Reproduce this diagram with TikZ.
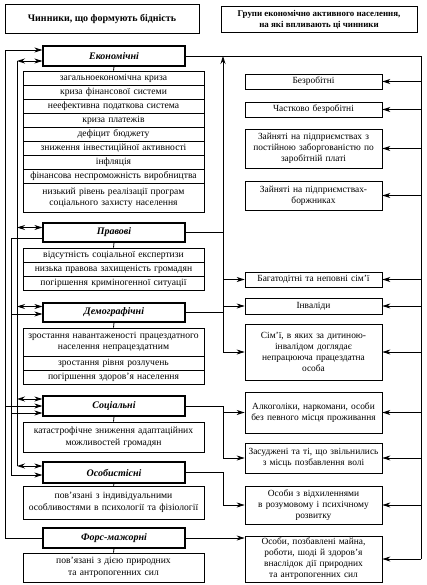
\documentclass[tikz,border=0pt]{standalone}
\usepackage{fontspec}
\setmainfont{Liberation Serif}
\usetikzlibrary{arrows.meta}
\begin{document}
\begin{tikzpicture}[x=1pt,y=-1pt,
  every node/.style={inner sep=0pt, align=center},
  hdr/.style={draw, line width=1.2pt, minimum width=142pt, minimum height=20pt, font=\fontsize{10}{11}\selectfont\bfseries\itshape},
  lst/.style={draw, line width=0.7pt, minimum width=181pt, text width=180pt, font=\fontsize{9.6}{11.5}\selectfont},
  rb/.style={draw, line width=0.7pt, minimum width=137pt, text width=136pt, font=\fontsize{9.4}{11}\selectfont},
  ttl/.style={draw, line width=1pt, font=\bfseries},
  con/.style={line width=0.8pt},
  arr/.style={con, -{Stealth[length=8pt,width=5pt]}},
  darr/.style={con, {Stealth[length=8pt,width=5pt]}-{Stealth[length=8pt,width=5pt]}},
]
\useasboundingbox (0,0) rectangle (426,585);

% titles
\node[ttl, minimum width=194pt, minimum height=29pt, font=\fontsize{10}{12}\selectfont\bfseries] (t1) at (102,19.5) {Чинники, що формують бідність};
\node[ttl, minimum width=196pt, minimum height=26pt, font=\fontsize{8.9}{10.8}\selectfont\bfseries] (t2) at (319,20) {Групи економічно активного населення,\\ на які впливають ці чинники};

% Економічні
\node[hdr] (h1) at (114,56) {Економічні};
\node[lst, minimum height=14pt] (e1) at (113.5,78) {загальноекономічна криза};
\node[lst, minimum height=14pt] (e2) at (113.5,92) {криза фінансової системи};
\node[lst, minimum height=14pt] (e3) at (113.5,106) {неефективна податкова система};
\node[lst, minimum height=14pt] (e4) at (113.5,120) {криза платежів};
\node[lst, minimum height=14pt] (e5) at (113.5,134) {дефіцит бюджету};
\node[lst, minimum height=14pt] (e6) at (113.5,148) {зниження інвестиційної активності};
\node[lst, minimum height=14pt] (e7) at (113.5,162) {інфляція};
\node[lst, minimum height=14pt] (e8) at (113.5,176) {фінансова неспроможність виробництва};
\node[lst, minimum height=29pt] (e9) at (113.5,197.5) {низький рівень реалізації програм\\ соціального захисту населення};

% Правові
\node[hdr, minimum height=19pt] (h2) at (114,232.5) {Правові};
\node[lst, minimum height=14pt] (p1) at (113.5,255) {відсутність соціальної експертизи};
\node[lst, minimum height=14pt] (p2) at (113.5,269) {низька правова захищеність громадян};
\node[lst, minimum height=14pt] (p3) at (113.5,283) {погіршення криміногенної ситуації};

% Демографічні
\node[hdr, minimum height=19pt] (h3) at (114,312.5) {Демографічні};
\node[lst, minimum height=28pt] (d1n) at (113.5,342) {зростання навантаженості працездатного\\ населення непрацездатним};
\node[lst, minimum height=14pt] (d2n) at (113.5,363) {зростання рівня розлучень};
\node[lst, minimum height=14pt] (d3n) at (113.5,377) {погіршення здоров'я населення};

% Соціальні
\node[hdr] (h4) at (114,406) {Соціальні};
\node[lst, minimum height=30pt] (s1) at (113.5,437) {катастрофічне зниження адаптаційних\\ можливостей громадян};

% Особистісні
\node[hdr, minimum height=21pt] (h5) at (114,472.5) {Особистісні};
\node[lst, minimum height=33pt] (o1) at (113.5,502.5) {пов'язані з індивідуальними\\ особливостями в психології та фізіології};

% Форс-мажорні
\node[hdr] (h6) at (114,538) {Форс-мажорні};
\node[lst, minimum height=29pt] (f1) at (113.5,567.5) {пов'язані з дією природних\\ та антропогенних сил};

% header-to-list links
\foreach \h/\l in {h1/e1,h2/p1,h3/d1n,h4/s1,h5/o1,h6/f1}
  \draw[con] (\h.south) -- (\l.north);

% right boxes
\node[rb, minimum height=15pt] (g1) at (313.5,81.5) {Безробітні};
\node[rb, minimum height=15pt] (g2) at (313.5,109.5) {Частково безробітні};
\node[rb, minimum height=39pt] (g3) at (313.5,148.5) {Зайняті на підприємствах з\\ постійною заборгованістю по\\ заробітній платі};
\node[rb, minimum height=29pt] (g4) at (313.5,195.5) {Зайняті на підприємствах-\\ боржниках};
\node[rb, minimum height=15pt] (g5) at (313.5,279.5) {Багатодітні та неповні сім'ї};
\node[rb, minimum height=16pt] (g6) at (313.5,306) {Інваліди};
\node[rb, minimum height=56pt] (g7) at (313.5,352) {Сім'ї, в яких за дитиною-\\ інвалідом доглядає\\ непрацююча працездатна\\ особа};
\node[rb, minimum height=41pt] (g8) at (313.5,412.5) {Алкоголіки, наркомани, особи\\ без певного місця проживання};
\node[rb, minimum height=30pt] (g9) at (313.5,458) {Засуджені та ті, що звільнились\\ з місць позбавлення волі};
\node[rb, minimum height=38pt] (g10) at (313.5,505) {Особи з відхиленнями\\ в розумовому і психічному\\ розвитку};
\node[rb, minimum height=46pt] (g11) at (313.5,559) {Особи, позбавлені майна,\\ роботи, шоді й здоров'я\\ внаслідок дії природних\\ та антропогенних сил};

% right bus from Економічні
\coordinate (rtop) at (421,56);
\coordinate (rbot) at (421,559);
\draw[con] (h1.east) -- (rtop) -- (rbot);
\foreach \g in {g1,g2,g3,g4,g5,g6,g7,g8,g9,g10,g11}
  \draw[arr] (\g.east -| rtop) -- (\g.east);

% middle bus from Правові and Демографічні
\coordinate (mtop) at (223,56);
\draw[arr] (g7.west -| mtop) -- (mtop);
\draw[con] (h2.east) -- (h2.east -| mtop);
\draw[con] (h3.east) -- (h3.east -| mtop);
\foreach \g in {g5,g6,g7}
  \draw[arr] (\g.west -| mtop) -- (\g.west);

% Соціальні
\draw[con] (h4.east) -- (h4.east -| mtop) -- (g9.west -| mtop);
\draw[arr] (g8.west -| mtop) -- (g8.west);
\draw[arr] (g9.west -| mtop) -- (g9.west);

% Особистісні
\draw[arr] (h5.east) -| (g10.west -| mtop) -- (g10.west);

% Форс-мажорні
\draw[arr] (h6.east) -- (h6.east -| g11.west);

% left side
\coordinate (a1) at (5,50);
\coordinate (a2) at (5,538);
\draw[arr] (h6.west) -- (a2) -- (a1) -- (a1 -| h1.west);
\draw[arr] (h4.west -| a1) -- (h4.west);

\coordinate (d1) at (17,61);
\coordinate (d2) at (17,466);
\draw[con] (d1) -- (d2);
\draw[darr] (d1) -- (d1 -| h1.west);
\draw[darr] ([yshift=5pt]h2.west -| d1) -- ([yshift=5pt]h2.west);
\draw[darr] ([yshift=6pt]h3.west -| d1) -- ([yshift=6pt]h3.west);
\draw[darr] ([yshift=7pt]h4.west -| d1) -- ([yshift=7pt]h4.west);
\draw[darr] (d2) -- (d2 -| h5.west);

\coordinate (c1) at (11,238);
\coordinate (c2) at (11,475);
\draw[con] ([yshift=-5.5pt]h2.west) -- (c1) -- (c2);
\draw[arr] ([yshift=-1.5pt]h3.west -| c1) -- ([yshift=-1.5pt]h3.west);
\draw[arr] ([yshift=-7pt]h4.west -| c1) -- ([yshift=-7pt]h4.west);
\draw[arr] (c2) -- (c2 -| h5.west);
\end{tikzpicture}
\end{document}
